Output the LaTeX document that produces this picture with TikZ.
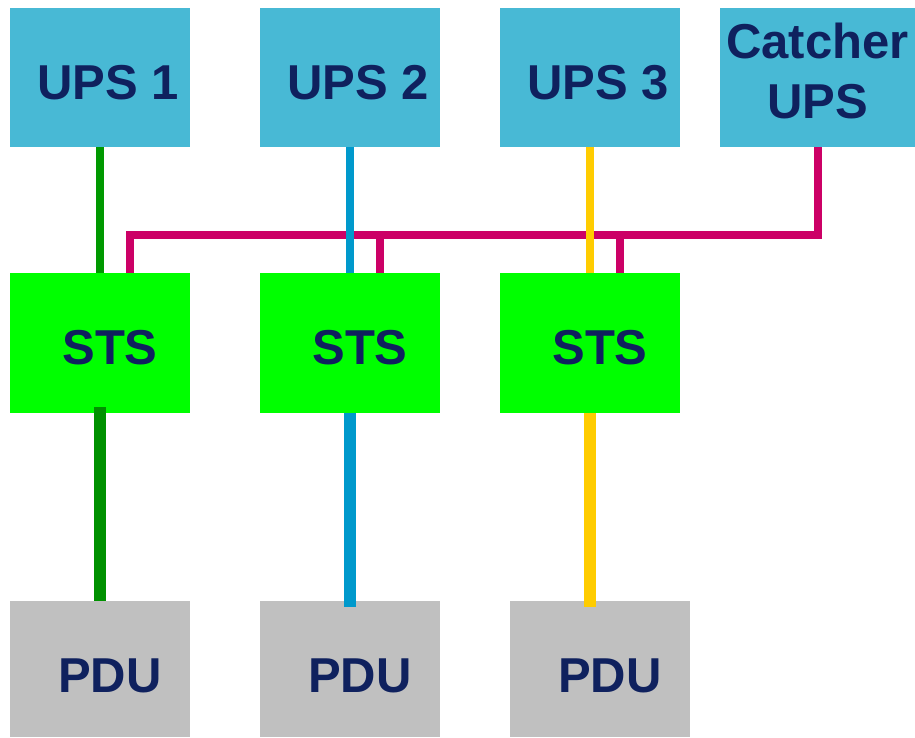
\documentclass[tikz,border=0pt]{standalone}
\usepackage{fontspec}
\setmainfont{Liberation Sans}
\usepackage{tikz}
\pgfdeclarelayer{nodelayer}
\pgfdeclarelayer{edgelayer}
\pgfsetlayers{nodelayer,edgelayer,main}
\definecolor{upsblue}{RGB}{72,185,213}
\definecolor{stsgreen}{RGB}{0,255,0}
\definecolor{pdugrey}{RGB}{192,192,192}
\definecolor{labelnavy}{RGB}{15,33,94}
\definecolor{wiregreen}{RGB}{0,153,0}
\definecolor{wireblue}{RGB}{0,153,204}
\definecolor{wireyellow}{RGB}{255,204,0}
\definecolor{wirepink}{RGB}{204,0,102}
\tikzstyle{box}=[shape=rectangle, draw=none, inner sep=0pt, text=labelnavy, font=\bfseries\fontsize{49}{60}\selectfont, minimum width=180pt]
\tikzstyle{ups style}=[box, fill=upsblue, minimum height=139pt, text height=43pt, text depth=0pt, execute at begin node=\hspace*{16pt}]
\tikzstyle{catcher style}=[box, fill=upsblue, minimum width=195pt, minimum height=139pt, align=center]
\tikzstyle{sts style}=[box, fill=stsgreen, minimum height=140pt, text height=42pt, text depth=0pt, execute at begin node=\hspace*{20pt}]
\tikzstyle{pdu style}=[box, fill=pdugrey, minimum height=136pt, text height=46pt, text depth=0pt, execute at begin node=\hspace*{20pt}]
\tikzstyle{feed edge}=[line width=8pt]
\tikzstyle{load edge}=[line width=12pt]
\tikzstyle{catcher edge}=[draw=wirepink, line width=8pt]

\begin{document}
\begin{tikzpicture}[x=1pt, y=-1pt]
	\useasboundingbox (0,0) rectangle (915,737);
	\begin{pgfonlayer}{nodelayer}
		\node [style=ups style] (0) at (100, 77.5) {UPS 1};
		\node [style=ups style] (1) at (350, 77.5) {UPS 2};
		\node [style=ups style] (2) at (590, 77.5) {UPS 3};
		\node [style=catcher style] (3) at (817.5, 77.5) {Catcher\\UPS\rule[-14pt]{0pt}{0pt}};
		\node [style=sts style] (4) at (100, 343) {STS};
		\node [style=sts style] (5) at (350, 343) {STS};
		\node [style=sts style] (6) at (590, 343) {STS};
		\node [style=pdu style] (7) at (100, 669) {PDU};
		\node [style=pdu style] (8) at (350, 669) {PDU};
		\node [style=pdu style] (9) at (600, 669) {PDU};
		\coordinate (10) at (0, 235);
	\end{pgfonlayer}
	\begin{pgfonlayer}{edgelayer}
		\draw [style=catcher edge] ([xshift=30pt]4.north) |- (3.south |- 10) -- (3.south);
		\draw [style=catcher edge] ([xshift=30pt]5.north) -- ([xshift=30pt]5.north |- 10);
		\draw [style=catcher edge] ([xshift=30pt]6.north) -- ([xshift=30pt]6.north |- 10);
		\draw [style=feed edge, draw=wiregreen] (0) to (4);
		\draw [style=feed edge, draw=wireblue] (1) to (5);
		\draw [style=feed edge, draw=wireyellow] (2) to (6);
		\draw [style=load edge, draw=wiregreen!95!black] ([yshift=6pt]4.south) to (7);
		\draw [style=load edge, draw=wireblue] (5) to ([yshift=-6pt]8.north);
		\draw [style=load edge, draw=wireyellow] (6) to ([yshift=-6pt]6.south |- 9.north);
	\end{pgfonlayer}
\end{tikzpicture}
\end{document}
